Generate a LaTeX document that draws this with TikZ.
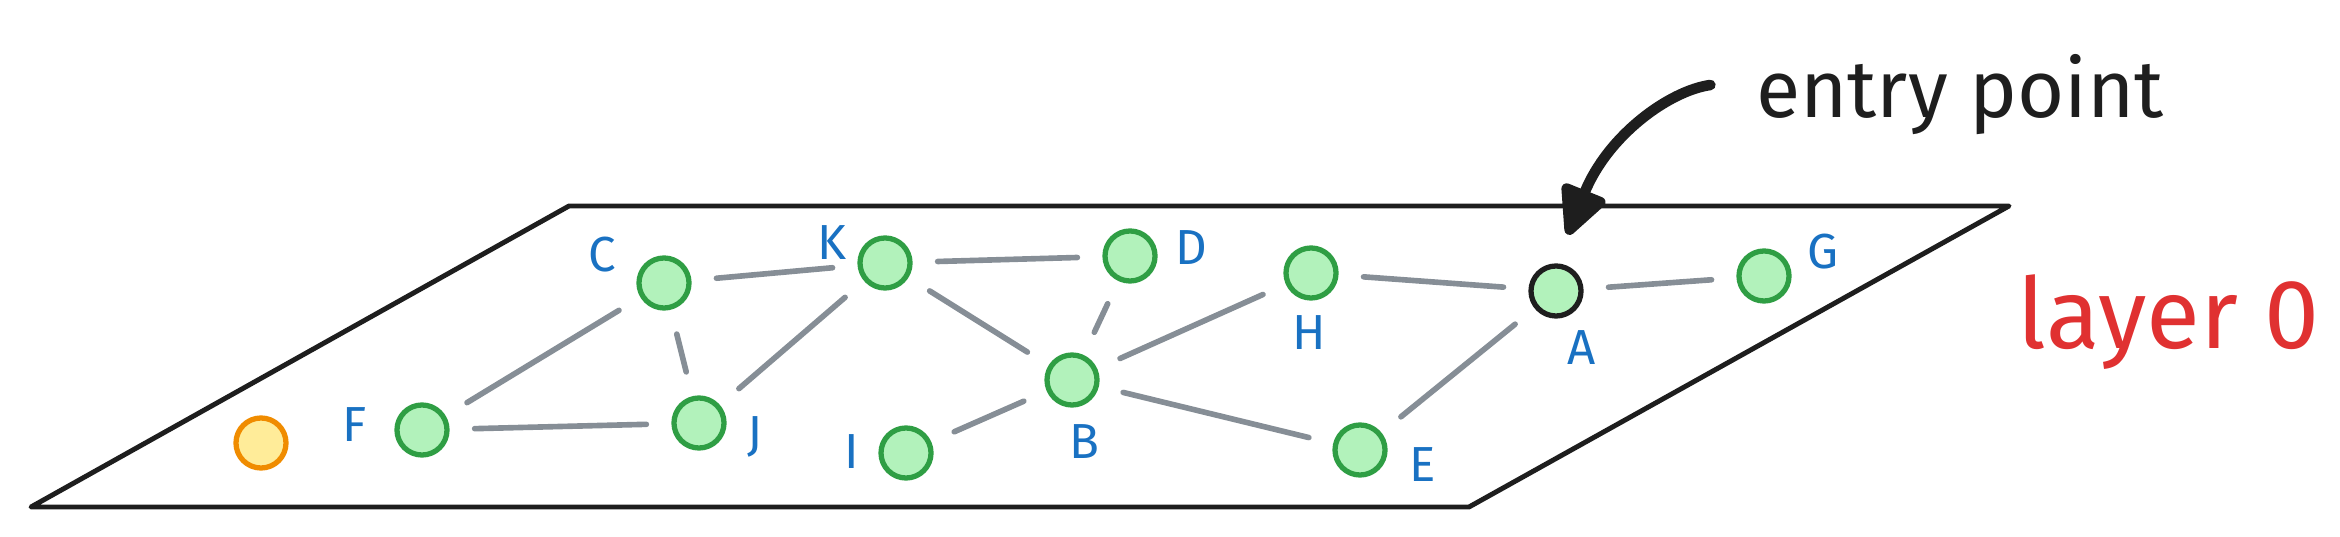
\documentclass[tikz,border=0pt]{standalone}
\usepackage{fontspec}
\setmainfont{Fira Sans}
\usetikzlibrary{arrows.meta,positioning}
\definecolor{nodegreen}{HTML}{2F9E44}
\definecolor{nodefill}{HTML}{B2F2BB}
\definecolor{qorange}{HTML}{F08C00}
\definecolor{qfill}{HTML}{FFEC99}
\definecolor{lblblue}{HTML}{1971C2}
\definecolor{edgegray}{HTML}{868E96}
\definecolor{inkblack}{HTML}{1E1E1E}
\definecolor{layerred}{HTML}{E03131}

\begin{document}
\begin{tikzpicture}[x=0.01cm, y=0.01cm,
    vtx/.style={circle, draw=nodegreen, fill=nodefill, line width=1.5pt,
                minimum size=0.5cm, inner sep=0pt},
    lbl/.style={text=lblblue, font=\fontsize{14}{16}\selectfont},
    link/.style={draw=edgegray, line width=1.6pt, line cap=round,
                 shorten >=0.25cm, shorten <=0.25cm}]
  \useasboundingbox (0,0) rectangle (2340,537);
  % the plane of layer 0
  \draw[inkblack, line width=1.4pt, line join=round]
    (31,30) -- (569,331) -- (2009,331) -- (1469,30) -- cycle;
  % vertices
  \foreach \n/\x/\y in {F/422/107, C/664/254, J/699/114, K/885/274, D/1130/281,
                        H/1311/264, B/1072/157, I/906/84, E/1360/87, G/1764/261}
    \node[vtx] (\n) at (\x,\y) {};
  \node[vtx, draw=inkblack] (A) at (1556,246) {};
  \node[vtx, draw=qorange, fill=qfill] (query) at (261,94) {};
  % vertex names
  \foreach \n/\x/\y in {C/602/282, F/355/112, J/755/100, K/832/294, D/1191/289,
                        H/1309/204, B/1084/95, I/852/85, E/1423/72, A/1582/189,
                        G/1823/285}
    \node[lbl] (l\n) at (\x,\y) {\n};
  % edges
  \foreach \a/\b in {C/K, C/F, C/J, F/J, J/K, K/D, K/B, D/B,
                     B/H, H/A, A/G, A/E, B/E, B/I}
    \draw[link] (\a) -- (\b);
  % entry point
  \node[font=\fontsize{23}{27}\selectfont, text=inkblack, inner xsep=0.45cm]
    (entry) at (1960,442) {entry point};
  \draw[inkblack, line width=3pt, line cap=round, shorten >=0.31cm,
        -{Triangle[length=0.55cm, width=0.5cm, round]}]
    ([yshift=0.1cm]entry.west) to[out=188, in=68, out looseness=0.45, in looseness=1.5] (A.north);
  \node[text=layerred, font=\fontsize{28}{33}\selectfont, anchor=west, inner sep=0pt]
    (layer) at (2017,215) {layer 0};
\end{tikzpicture}
\end{document}
